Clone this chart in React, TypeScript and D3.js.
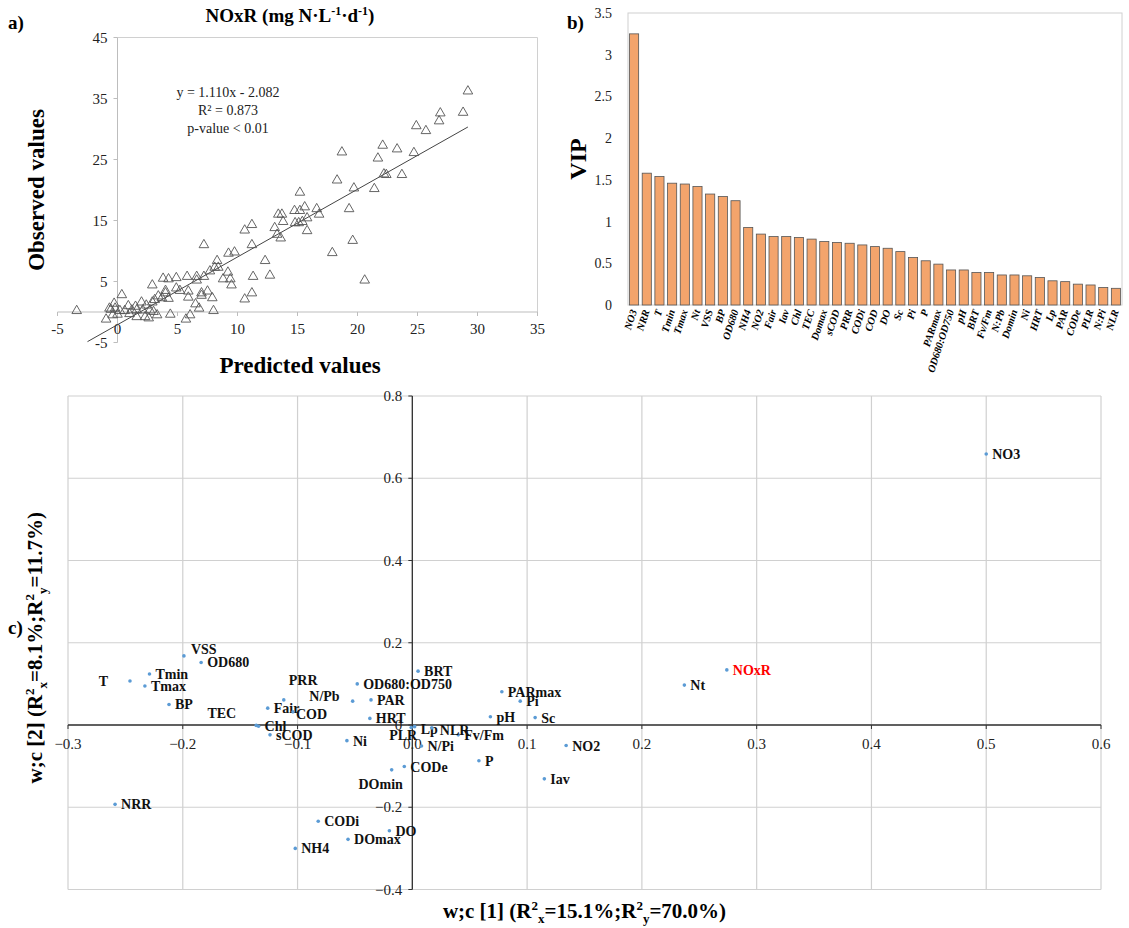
import React from 'react'
import * as d3 from 'd3'

const FONT = '"Liberation Serif", "Times New Roman", serif'

// ---- panel a: predicted vs observed NOxR ----
const PRED = [
  29.2, 28.8, 26.9, 26.8, 24.9, 25.7, 24.7, 18.7, 22.1, 23.3, 21.7, 22.2, 22.4, 23.7, 18.3, 19.7,
  21.4, 15.2, 19.3, 19.6, 17.9, 20.6, 16.6, 16.8, 15.6, 14.75, 15.2, 15.8, 14.8, 15.1, 15.4, 15.8,
  13.4, 13.7, 13.8, 13.1, 13.3, 13.6, 10.6, 11.2, 11.2, 7.2, 9.25, 9.75, 12.3, 8.3, 8.1, 8.4,
  7.7, 9.2, 8.8, 9.4, 9.5, 11.3, 12.7, 11.2, 10.6, 3.8, 4.25, 4.9, 5.8, 6.6, 7.2, 6.6,
  2.9, 4.9, 5.2, 4.0, 4.0, 5.9, 7.0, 7.0, 7.5, 7.9, 5.9, 6.5, 6.8, 8.0, 4.25, 3.7,
  3.4, 3.1, 2.9, 2.4, 2.0, 0.36, -0.28, -0.67, -0.2, 0.2, 0.9, 1.2, 1.5, 1.6, 2.1, 2.7,
  3.0, 3.3, 2.3, 1.6, -0.4, -0.95, 4.4, 5.7, 6.05, 0.6, -3.4, -0.55, 2.6, 1.0, 0.0,
]
const OBS = [
  36.2, 32.7, 32.6, 31.3, 30.5, 29.7, 26.1, 26.2, 27.3, 26.7, 25.2, 22.6, 22.5, 22.5, 21.6, 20.3,
  20.2, 19.6, 16.9, 11.7, 9.7, 5.2, 16.9, 16.0, 17.2, 16.6, 16.6, 15.4, 14.6, 14.6, 14.8, 13.3,
  16.0, 16.0, 14.8, 13.8, 12.7, 12.1, 13.4, 14.3, 11.0, 11.0, 9.6, 9.8, 8.4, 8.4, 7.3, 7.3,
  6.7, 6.5, 5.4, 5.4, 4.4, 5.8, 6.0, 3.1, 2.1, 5.5, 5.4, 5.6, 5.8, 5.8, 5.8, 5.2,
  4.4, 3.9, 3.5, 3.5, 3.1, 3.4, 3.1, 2.7, 3.4, 2.3, 2.4, 1.3, 0.6, 0.2, 2.2, 2.3,
  2.6, 2.0, 1.6, 1.1, 1.6, 2.8, 1.4, 0.6, 0.6, 0.2, 1.0, 0.3, 0.9, 0.3, 0.3, 0.3,
  0.05, -0.5, -0.8, -0.8, -0.5, -1.2, -0.4, -1.2, -0.5, 0.2, 0.2, 0.4, -1.0, -0.3, -0.4,
]
const A_XTICKS = [-5, 0, 5, 10, 15, 20, 25, 30, 35]
const A_YTICKS = [-5, 5, 15, 25, 35, 45]
const FIT_SLOPE = 1.11
const FIT_INTERCEPT = -2.082
const FIT_RANGE = [-2.5, 29.2]

// ---- panel b: VIP scores ----
const VIP_NAMES = [
  'NO3', 'NRR', 'T', 'Tmin', 'Tmax', 'Nt', 'VSS', 'BP', 'OD680', 'NH4', 'NO2', 'Fair', 'Iav',
  'Chl', 'TEC', 'Domax', 'sCOD', 'PRR', 'CODi', 'COD', 'DO', 'Sc', 'Pi', 'P', 'PARmax',
  'OD680:OD750', 'pH', 'BRT', 'Fv/Fm', 'N:Pb', 'Domin', 'Ni', 'HRT', 'Lp', 'PAR', 'CODe',
  'PLR', 'N:Pi', 'NLR',
]
const VIP_VALUES = [
  3.25, 1.58, 1.54, 1.46, 1.45, 1.42, 1.33, 1.30, 1.25, 0.93, 0.85, 0.82, 0.82,
  0.81, 0.79, 0.76, 0.75, 0.74, 0.72, 0.70, 0.68, 0.64, 0.57, 0.53, 0.49,
  0.42, 0.42, 0.39, 0.39, 0.36, 0.36, 0.35, 0.33, 0.29, 0.28, 0.25,
  0.24, 0.21, 0.20,
]
const B_YTICKS = [0, 0.5, 1, 1.5, 2, 2.5, 3, 3.5]

// ---- panel c: loadings w;c[1] vs w;c[2] ----
const W_NAMES = [
  'NO3', 'NOxR', 'Nt', 'VSS', 'OD680', 'Tmin', 'Tmax', 'T', 'BP', 'TEC', 'Chl', 'Fair', 'PRR',
  'N/Pb', 'COD', 'sCOD', 'OD680:OD750', 'PAR', 'HRT', 'Ni', 'DOmin', 'CODe', 'CODi', 'DO',
  'DOmax', 'NH4', 'NRR', 'BRT', 'PARmax', 'Pi', 'pH', 'Sc', 'NO2', 'Iav', 'P', 'Fv/Fm',
  'Lp', 'NLR', 'PLR', 'N/Pi',
]
const W_X = [
  0.500, 0.274, 0.237, -0.199, -0.184, -0.229, -0.233, -0.246, -0.212, -0.136, -0.134, -0.126, -0.112,
  -0.052, -0.104, -0.124, -0.048, -0.036, -0.037, -0.057, -0.018, -0.007, -0.082, -0.020,
  -0.056, -0.102, -0.259, 0.005, 0.078, 0.094, 0.068, 0.107, 0.134, 0.115, 0.058, 0.040,
  0.002, 0.017, -0.001, 0.008,
]
const W_Y = [
  0.659, 0.134, 0.097, 0.168, 0.152, 0.124, 0.095, 0.107, 0.050, -0.001, -0.003, 0.041, 0.061,
  0.058, 0.032, -0.024, 0.100, 0.061, 0.016, -0.038, -0.109, -0.101, -0.234, -0.257,
  -0.278, -0.300, -0.193, 0.131, 0.081, 0.058, 0.020, 0.018, -0.050, -0.131, -0.087, -0.024,
  -0.004, -0.007, -0.006, -0.051,
]
const C_XTICKS = d3.range(-3, 7).map((d) => d / 10)
const C_YTICKS = d3.range(-2, 5).map((d) => d / 5)

// label anchors that are not simply "to the right of the dot"
const LABEL_OFFSET: Record<string, [number, number, string]> = {
  T: [-22, 5, 'end'],
  VSS: [7, -2, 'start'],
  PRR: [5, -15, 'start'],
  'N/Pb': [-13, 0, 'end'],
  TEC: [-20, -7, 'end'],
  COD: [3, 7, 'start'],
  DOmin: [-11, 19, 'middle'],
  PLR: [6, 13, 'end'],
  NLR: [8, 7, 'start'],
  Lp: [6, 7, 'start'],
}

export default function App() {
  // panel a scales
  const xA = d3.scaleLinear().domain([-5, 35]).range([57.5, 537.5])
  const yA = d3.scaleLinear().domain([-5, 45]).range([342.5, 37.5])
  const tri = d3.symbol().type(d3.symbolTriangle).size(40)()

  // panel b scales
  const xB = d3.scaleBand().domain(VIP_NAMES).range([628, 1122]).paddingInner(0.28).paddingOuter(0.12)
  const yB = d3.scaleLinear().domain([0, 3.5]).range([305, 13])

  // panel c scales
  const xC = d3.scaleLinear().domain([-0.3, 0.6]).range([68, 1101])
  const yC = d3.scaleLinear().domain([-0.4, 0.8]).range([889.5, 396])

  const grey = '#d0d0d0'

  return (
    <div style={{ position: 'absolute', left: 0, top: 0 }}>
      <svg width={1129} height={928} style={{ display: 'block', background: '#fff' }} fontFamily={FONT}>
        {/* ================= a) ================= */}
        <text x={8} y={29} fontSize={19} fontWeight="bold">a)</text>
        <text x={290} y={22} fontSize={19} fontWeight="bold" textAnchor="middle">
          NOxR (mg N·L<tspan fontSize={12} dy={-7}>-1</tspan>
          <tspan dy={7}>·d</tspan><tspan fontSize={12} dy={-7}>-1</tspan><tspan dy={7}>)</tspan>
        </text>

        {/* plot frame */}
        <path d={`M${xA(0)},${yA(45)}H${xA(35)}V${yA(0)}`} fill="none" stroke={grey} />
        <line x1={xA(-5)} x2={xA(35)} y1={yA(0)} y2={yA(0)} stroke="#bdbdbd" />
        <line x1={xA(0)} x2={xA(0)} y1={yA(-5)} y2={yA(45)} stroke="#bdbdbd" />
        {A_XTICKS.map((t) => (
          <g key={'ax' + t}>
            <line x1={xA(t)} x2={xA(t)} y1={yA(0)} y2={yA(0) + 4} stroke="#bdbdbd" />
            <text x={xA(t)} y={yA(0) + 22} fontSize={15} textAnchor="middle" fill="#222">{t}</text>
          </g>
        ))}
        {A_YTICKS.map((t) => (
          <g key={'ay' + t}>
            <line x1={xA(0) - 4} x2={xA(0)} y1={yA(t)} y2={yA(t)} stroke="#bdbdbd" />
            <text x={xA(0) - 10} y={yA(t) + 5} fontSize={15} textAnchor="end" fill="#222">{t}</text>
          </g>
        ))}

        <line
          x1={xA(FIT_RANGE[0])} y1={yA(FIT_SLOPE * FIT_RANGE[0] + FIT_INTERCEPT)}
          x2={xA(FIT_RANGE[1])} y2={yA(FIT_SLOPE * FIT_RANGE[1] + FIT_INTERCEPT)}
          stroke="#444" strokeWidth={1}
        />
        {PRED.map((p, i) => (
          <path key={'pt' + i} d={tri!} transform={`translate(${xA(p)},${yA(OBS[i])})`}
            fill="none" stroke="#555" strokeWidth={0.9} />
        ))}

        <g fontSize={14} textAnchor="middle" fill="#222">
          <text x={228} y={97}>y = 1.110x - 2.082</text>
          <text x={228} y={115}>R² = 0.873</text>
          <text x={228} y={133}>p-value &lt; 0.01</text>
        </g>

        <text transform={`translate(44,${yA(20)}) rotate(-90)`} fontSize={23} fontWeight="bold" textAnchor="middle">
          Observed values
        </text>
        <text x={300} y={373} fontSize={23} fontWeight="bold" textAnchor="middle">Predicted values</text>

        {/* ================= b) ================= */}
        <text x={567} y={29} fontSize={19} fontWeight="bold">b)</text>
        <rect x={628} y={yB(3.5)} width={494} height={yB(0) - yB(3.5)} fill="none" stroke={grey} />
        {B_YTICKS.map((t) => (
          <text key={'by' + t} x={612} y={yB(t) + 5} fontSize={14} textAnchor="end" fill="#222">{t}</text>
        ))}
        {VIP_NAMES.map((n, i) => (
          <rect key={'bar' + n} x={xB(n)} y={yB(VIP_VALUES[i])} width={xB.bandwidth()}
            height={yB(0) - yB(VIP_VALUES[i])} fill="#F3A46C" stroke="#555" strokeWidth={0.8} />
        ))}
        {VIP_NAMES.map((n) => (
          <text key={'bl' + n} fontSize={10.5} fontWeight="bold" fontStyle="italic" textAnchor="end"
            transform={`translate(${xB(n)! + xB.bandwidth() / 2 + 3},${yB(0) + 6}) rotate(-72)`}>
            {n}
          </text>
        ))}
        <text transform={`translate(586,${yB(1.75)}) rotate(-90)`} fontSize={24} fontWeight="bold" textAnchor="middle">
          VIP
        </text>

        {/* ================= c) ================= */}
        <text x={8} y={634} fontSize={19} fontWeight="bold">c)</text>
        {C_XTICKS.map((t) => (
          <line key={'cgx' + t} x1={xC(t)} x2={xC(t)} y1={yC(0.8)} y2={yC(-0.4)} stroke={grey} strokeWidth={1.2} />
        ))}
        {C_YTICKS.map((t) => (
          <line key={'cgy' + t} x1={xC(-0.3)} x2={xC(0.6)} y1={yC(t)} y2={yC(t)} stroke={grey} strokeWidth={1.2} />
        ))}
        <line x1={xC(-0.3)} x2={xC(0.6)} y1={yC(0)} y2={yC(0)} stroke="#333" strokeWidth={1.3} />
        <line x1={xC(0)} x2={xC(0)} y1={yC(-0.4)} y2={yC(0.8)} stroke="#333" strokeWidth={1.3} />
        {C_XTICKS.map((t) => (
          <g key={'cx' + t}>
            <line x1={xC(t)} x2={xC(t)} y1={yC(0)} y2={yC(0) + 4} stroke="#333" />
            <text x={xC(t)} y={yC(0) + 24} fontSize={15} textAnchor="middle" fill="#222">
              {d3.format('.1f')(t)}
            </text>
          </g>
        ))}
        {C_YTICKS.map((t) => (
          <g key={'cy' + t}>
            <line x1={xC(0) - 4} x2={xC(0)} y1={yC(t)} y2={yC(t)} stroke="#333" />
            <text x={xC(0) - 10} y={yC(t) + 5} fontSize={15} textAnchor="end" fill="#222">
              {t === 0 ? '0' : d3.format('.1f')(t)}
            </text>
          </g>
        ))}

        {W_NAMES.map((n, i) => {
          const cx = xC(W_X[i])
          const cy = yC(W_Y[i])
          const off = LABEL_OFFSET[n] ?? [6, 5, 'start']
          return (
            <g key={'w' + n}>
              <circle cx={cx} cy={cy} r={1.8} fill="#5B9BD5" />
              <text x={cx + off[0]} y={cy + off[1]} textAnchor={off[2]} fontSize={14} fontWeight="bold"
                fill={n === 'NOxR' ? '#FF0000' : '#111'}>
                {n}
              </text>
            </g>
          )
        })}

        <text x={xC(0.15)} y={918} fontSize={21} fontWeight="bold" textAnchor="middle">
          w;c [1] (R<tspan fontSize={13} dy={-8}>2</tspan><tspan fontSize={13} dy={13}>x</tspan>
          <tspan dy={-5}>=15.1%;R</tspan><tspan fontSize={13} dy={-8}>2</tspan>
          <tspan fontSize={13} dy={13}>y</tspan><tspan dy={-5}>=70.0%)</tspan>
        </text>
        <text transform={`translate(42,${yC(0.2) + 5}) rotate(-90)`} fontSize={21} fontWeight="bold" textAnchor="middle">
          w;c [2] (R<tspan fontSize={13} dy={-8}>2</tspan><tspan fontSize={13} dy={13}>x</tspan>
          <tspan dy={-5}>=8.1%;R</tspan><tspan fontSize={13} dy={-8}>2</tspan>
          <tspan fontSize={13} dy={13}>y</tspan><tspan dy={-5}>=11.7%)</tspan>
        </text>
      </svg>
    </div>
  )
}
